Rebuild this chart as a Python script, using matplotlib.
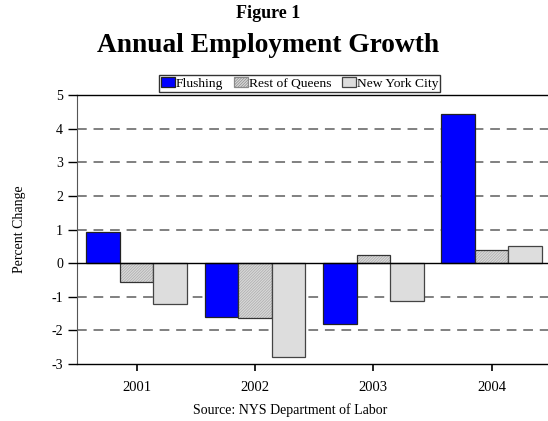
import matplotlib
matplotlib.use("Agg")
import matplotlib.pyplot as plt
import numpy as np

plt.rcParams['font.family'] = ['Liberation Serif', 'DejaVu Serif']
plt.rcParams['axes.unicode_minus'] = False
plt.rcParams['hatch.linewidth'] = 0.5

years = ["2001", "2002", "2003", "2004"]
flushing = [0.93, -1.60, -1.82, 4.43]
rest_of_queens = [-0.55, -1.62, 0.24, 0.40]
new_york_city = [-1.22, -2.80, -1.13, 0.50]
grid_levels = [-2, -1, 1, 2, 3, 4]

fig = plt.figure(figsize=[5.48, 4.21], dpi=100)
ax = fig.add_axes([0.1414, 0.1354, 0.8637, 0.6389])

x = np.arange(len(years))
w = 0.283

for g in grid_levels:
    ax.axhline(g, color="#808080", lw=1.4, ls=(0, (5, 3.5)), zorder=0)

ax.bar(x - w, flushing, w, color="#0000ff", edgecolor="#222222", lw=0.9, label="Flushing", zorder=2)
# hatch drawn in a light grey, outline drawn on top in dark grey
ax.bar(x, rest_of_queens, w, color="#d8d8d8", edgecolor="#ababab", lw=0, hatch="////////////",
       label="Rest of Queens", zorder=2)
ax.bar(x, rest_of_queens, w, fill=False, edgecolor="#333333", lw=0.9, zorder=2)
ax.bar(x + w, new_york_city, w, color="#dddddd", edgecolor="#444444", lw=0.9, label="New York City", zorder=2)

ax.axhline(0, color="black", lw=1.0, zorder=3)

ax.set_xlim(-0.5, 3.5)
ax.set_ylim(-3, 5)
ax.set_yticks(range(-3, 6))
ax.set_xticks(x)
ax.set_xticklabels(years)
ax.tick_params(axis="y", direction="out", length=6.5, width=1, labelsize=10, pad=4)
ax.tick_params(axis="x", direction="out", length=5, width=1.2, labelsize=10.5, pad=7)
ax.spines["right"].set_visible(False)
ax.spines["left"].set_color("#555555")
ax.spines["top"].set_linewidth(1)
ax.spines["bottom"].set_linewidth(1)
ax.set_ylabel("Percent Change", fontsize=10, labelpad=18)

fig.text(0.49, 0.968, "Figure 1", ha="center", va="center", fontsize=13, fontweight="bold")
fig.text(0.49, 0.892, "Annual Employment Growth", ha="center", va="center", fontsize=19.7, fontweight="bold")
fig.text(0.529, 0.026, "Source: NYS Department of Labor", ha="center", va="center", fontsize=10)

handles, labels = ax.get_legend_handles_labels()
leg = fig.legend(handles, labels, loc="center", bbox_to_anchor=(0.547, 0.801), ncol=3, fontsize=9.7,
                 frameon=True, fancybox=False, handlelength=1.0, handleheight=0.75, handletextpad=0.1,
                 columnspacing=0.8, borderpad=0.15, borderaxespad=0)
leg.get_frame().set_edgecolor("black")
leg.get_frame().set_linewidth(1)
for p in leg.get_patches():
    p.set_linewidth(0.9)
    if p.get_hatch():
        p.set_edgecolor("#8a8a8a")

plt.savefig("out.png", dpi=100)
